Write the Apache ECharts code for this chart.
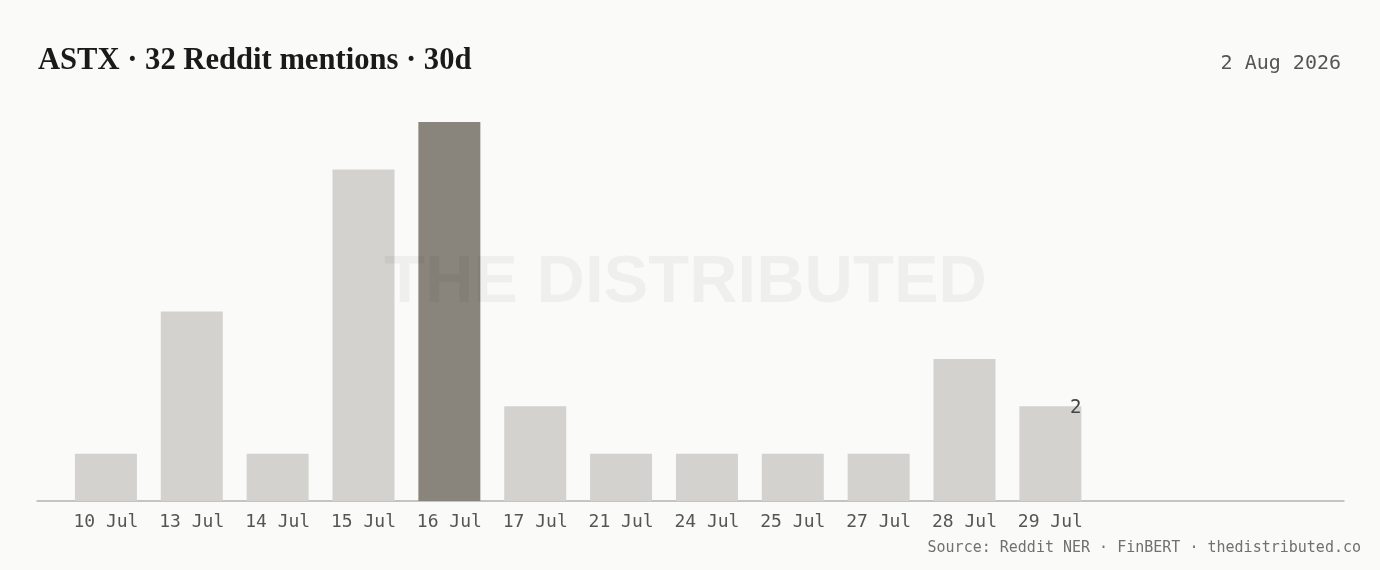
<!DOCTYPE html>
<html><head><meta charset="utf-8">
<style>html,body{margin:0;padding:0;background:#fafaf9;}#c{width:1380px;height:570px;}</style>
<script src="https://cdn.jsdelivr.net/npm/echarts@6/dist/echarts.min.js"></script>
</head><body><div id="c"></div>
<script>
const titleText = 'ASTX · 32 Reddit mentions · 30d';
const dateText = '2 Aug 2026';
const sourceText = 'Source: Reddit NER · FinBERT · thedistributed.co';
const watermarkText = 'THE DISTRIBUTED';
const categories = ['10 Jul','13 Jul','14 Jul','15 Jul','16 Jul','17 Jul','21 Jul','24 Jul','25 Jul','27 Jul','28 Jul','29 Jul'];
const mentions = [1,4,1,7,8,2,1,1,1,1,3,2];

const peak = Math.max(...mentions);
const mono = '"DejaVu Sans Mono", "Liberation Mono", monospace';
const data = mentions.map((v, i) => {
  const item = { value: v, itemStyle: { color: v === peak ? '#8a857c' : '#d3d2ce' } };
  if (i === mentions.length - 1) {
    item.label = { show: true, position: ['100%', 0], align: 'right', verticalAlign: 'middle', offset: [0, 2],
      color: '#444', fontSize: 19, fontFamily: mono, formatter: '{c}' };
  }
  return item;
});

const chart = echarts.init(document.getElementById('c'));
chart.setOption({
  backgroundColor: '#fafaf9',
  animation: false,
  title: [
    { text: titleText, left: 38, top: 46, padding: 0, textStyle: { fontFamily: '"Liberation Serif", serif', fontWeight: 'bold', fontSize: 30.6, color: '#1a1a1a' } },
    { text: dateText, right: 39, top: 54, padding: 0, textStyle: { fontFamily: mono, fontWeight: 'normal', fontSize: 20, color: '#555' } },
    { text: sourceText, right: 19, top: 541, padding: 0, textStyle: { fontFamily: mono, fontWeight: 'normal', fontSize: 15, color: '#707070' } }
  ],
  grid: [
    { left: 63, width: 1030.3, top: 122, bottom: 69 },
    { left: 37, right: 36, top: 122, bottom: 69 }
  ],
  xAxis: [
    { type: 'category', gridIndex: 0, data: categories, axisLine: { show: false }, axisTick: { show: false },
      axisLabel: { color: '#555', fontFamily: mono, fontSize: 18, margin: 12, interval: 0 } },
    { type: 'value', gridIndex: 1, min: 0, max: 1, axisLine: { show: true, lineStyle: { color: '#b5b3ae', width: 1.5 } },
      axisTick: { show: false }, axisLabel: { show: false }, splitLine: { show: false } }
  ],
  yAxis: [
    { type: 'value', gridIndex: 0, min: 0, max: 8, show: false, splitLine: { show: false } },
    { type: 'value', gridIndex: 1, min: 0, max: 1, show: false }
  ],
  series: [
    { type: 'bar', xAxisIndex: 0, yAxisIndex: 0, data: data, barWidth: 62 }
  ],
  graphic: [
    { type: 'text', left: 384, top: 250, z: 100, silent: true,
      style: { text: watermarkText, font: 'bold 67px "Liberation Sans", Arial, sans-serif',
        fill: 'rgba(0,0,0,0.045)' } }
  ]
});
</script></body></html>
